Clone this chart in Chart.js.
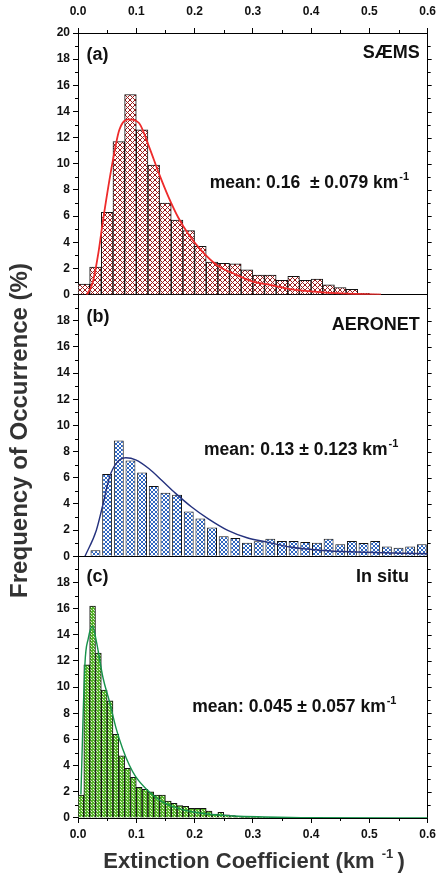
<!DOCTYPE html>
<html>
<head>
<meta charset="utf-8">
<script src="https://cdn.jsdelivr.net/npm/chart.js@4.4.1/dist/chart.umd.min.js"></script>
<style>
  html, body { margin: 0; padding: 0; background: #fff; }
  #wrap { width: 445px; height: 878px; position: relative; }
</style>
</head>
<body>
<div id="wrap"><canvas id="hist" width="445" height="878"></canvas></div>
<script>
// bin centres (km-1) and frequency (%)
const binsA = [0.01, 0.03, 0.05, 0.07, 0.09, 0.11, 0.13, 0.15, 0.17, 0.19, 0.21, 0.23, 0.25,
               0.27, 0.29, 0.31, 0.33, 0.35, 0.37, 0.39, 0.41, 0.43, 0.45, 0.47, 0.49, 0.51];
const freqA = [0.8, 2.1, 6.3, 11.7, 15.3, 12.6, 9.9, 7.0, 5.7, 4.9, 3.7, 2.5, 2.4,
               2.35, 1.9, 1.5, 1.5, 1.1, 1.4, 1.1, 1.2, 0.75, 0.55, 0.4, 0.1, 0.05];

const binsB = [0.03, 0.05, 0.07, 0.09, 0.11, 0.13, 0.15, 0.17, 0.19, 0.21, 0.23, 0.25, 0.27, 0.29, 0.31,
               0.33, 0.35, 0.37, 0.39, 0.41, 0.43, 0.45, 0.47, 0.49, 0.51, 0.53, 0.55, 0.57, 0.59];
const freqB = [0.46, 6.3, 8.85, 7.33, 6.4, 5.37, 4.86, 4.7, 3.43, 2.9, 2.2, 1.53, 1.4, 1.04, 1.15,
               1.35, 1.17, 1.17, 1.1, 1.04, 1.35, 0.92, 1.17, 1.02, 1.17, 0.76, 0.66, 0.76, 0.92];

const binsC = [0.005, 0.015, 0.025, 0.035, 0.045, 0.055, 0.065, 0.075, 0.085, 0.095, 0.105, 0.115,
               0.125, 0.135, 0.145, 0.155, 0.165, 0.175, 0.185, 0.195, 0.205, 0.215, 0.225, 0.235,
               0.245, 0.255, 0.265, 0.275, 0.285, 0.295, 0.305, 0.315, 0.325, 0.335, 0.345];
const freqC = [1.76, 11.7, 16.2, 12.6, 9.77, 8.96, 6.39, 4.76, 3.79, 3.1, 2.34, 2.2,
               2.0, 1.76, 1.76, 1.3, 1.12, 0.94, 0.89, 0.74, 0.74, 0.74, 0.53, 0.3,
               0.43, 0.25, 0.18, 0.13, 0.1, 0.1, 0.08, 0.06, 0.05, 0.04, 0.03];

// fitted distribution curves
const fitAx = [0.015, 0.025, 0.035, 0.043, 0.06, 0.071, 0.088, 0.105, 0.122, 0.139, 0.155, 0.172,
               0.189, 0.211, 0.24, 0.268, 0.3, 0.33, 0.364, 0.42, 0.477, 0.52];
const fitAy = [0, 0.9, 3.2, 5.7, 10.3, 12.6, 13.4, 13.1, 11.3, 9.25, 7.5, 5.9,
               4.65, 3.4, 2.2, 1.6, 1.0, 0.75, 0.43, 0.18, 0.05, 0];

const fitBx = [0.012, 0.0315, 0.043, 0.054, 0.065, 0.082, 0.099, 0.122, 0.144, 0.167, 0.195, 0.223,
               0.257, 0.29, 0.3245, 0.364, 0.42, 0.477, 0.54, 0.6];
const fitBy = [0, 2.0, 4.0, 6.05, 7.07, 7.53, 7.38, 6.7, 5.8, 4.83, 3.77, 2.88,
               1.98, 1.42, 1.09, 0.71, 0.45, 0.33, 0.25, 0.2];

const fitCx = [0.005, 0.0118, 0.0175, 0.0248, 0.0315, 0.043, 0.054, 0.0654, 0.0766, 0.088, 0.099,
               0.122, 0.144, 0.172, 0.212, 0.268, 0.32, 0.4, 0.6];
const fitCy = [1.8, 11.7, 13.7, 14.66, 13.5, 10.7, 8.9, 6.85, 5.3, 4.05, 3.16,
               2.0, 1.25, 0.74, 0.36, 0.15, 0.08, 0.02, 0];

const xTicks = [0, 0.1, 0.2, 0.3, 0.4, 0.5, 0.6];
const panelTags = ['(a)', '(b)', '(c)'];
const sources = ['SÆMS', 'AERONET', 'In situ'];
const meanText = ['mean: 0.16  ± 0.079 km', 'mean: 0.13 ± 0.123 km', 'mean: 0.045 ± 0.057 km'];

const FONT = '"Liberation Sans", Arial, sans-serif';
Chart.defaults.font.family = FONT;

const pts = (xs, ys) => xs.map((x, i) => ({ x: x, y: ys[i] }));

function hatch(bg, fg, size) {
    const c = document.createElement('canvas');
    c.width = c.height = size;
    const g = c.getContext('2d');
    g.fillStyle = bg;
    g.fillRect(0, 0, size, size);
    g.strokeStyle = fg;
    g.lineWidth = 1;
    g.beginPath();
    g.moveTo(0, 0); g.lineTo(size, size);
    g.moveTo(size, 0); g.lineTo(0, size);
    g.stroke();
    return g.createPattern(c, 'repeat');
}

function dots(bg, fg) {
    const c = document.createElement('canvas');
    c.width = c.height = 3;
    const g = c.getContext('2d');
    g.fillStyle = bg;
    g.fillRect(0, 0, 3, 3);
    g.fillStyle = fg;
    g.fillRect(1, 1, 1, 1);
    g.fillRect(0, 0, 1, 1);
    return g.createPattern(c, 'repeat');
}

const tickFont = { size: 12, weight: 'bold' };

const xAxis = (pos) => ({
    type: 'linear', position: pos, min: 0, max: 0.6, offset: false,
    afterBuildTicks: s => { s.ticks = xTicks.map(v => ({ value: v })); },
    ticks: { font: tickFont, color: '#111', padding: pos === 'top' ? 9 : 4, maxRotation: 0, autoSkip: false,
             callback: v => v.toFixed(1) },
    grid: {
        offset: false, drawOnChartArea: pos === 'bottom', tickLength: 5, tickColor: '#000',
        color: c => (c.tick && Math.abs(c.tick.value - 0.6) < 1e-6) ? '#000' : 'rgba(0,0,0,0)'
    },
    border: { color: '#000', width: 1 },
    afterFit: s => { s.height = pos === 'top' ? 33 : 60; }
});

const hiddenX = () => ({ type: 'linear', min: 0, max: 0.6, offset: false, display: false,
                         ticks: { stepSize: 0.1 }, grid: { offset: false } });

const yAxis = (showTop) => ({
    type: 'linear', position: 'left', stack: 'panels', stackWeight: 1, min: 0, max: 20,
    ticks: { stepSize: 2, font: tickFont, color: '#111', padding: 3, autoSkip: false,
             callback: v => (v === 20 && !showTop) ? '' : v },
    grid: {
        tickLength: 5, tickColor: '#000',
        color: c => (!showTop && c.tick && c.tick.value === 20) ? '#000' : 'rgba(0,0,0,0)'
    },
    border: { color: '#000', width: 1 },
    afterFit: s => { s.width = 78; }
});

// small ticks between the labelled ones, and ticks on the right frame
const minorTicks = {
    id: 'minorTicks',
    afterDraw(chart) {
        const { ctx, chartArea: a, scales } = chart;
        ctx.save();
        ctx.strokeStyle = '#000';
        ctx.lineWidth = 1;
        ctx.beginPath();
        ['ya', 'yb', 'yc'].forEach(id => {
            const s = scales[id];
            for (let v = 1; v < 20; v++) {
                const y = Math.round(s.getPixelForValue(v)) + 0.5;
                if (v % 2) { ctx.moveTo(a.left - 3, y); ctx.lineTo(a.left, y); }
                ctx.moveTo(a.right, y); ctx.lineTo(a.right + (v % 2 ? 3 : 4), y);
            }
        });
        const sx = scales.x;
        for (let k = 0; k < 6; k++) {
            const x = Math.round(sx.getPixelForValue(0.05 + k * 0.1)) + 0.5;
            ctx.moveTo(x, a.bottom); ctx.lineTo(x, a.bottom + 3);
            ctx.moveTo(x, a.top - 3); ctx.lineTo(x, a.top);
        }
        ctx.stroke();
        ctx.restore();
    }
};

function supText(ctx, text, sup, x, y, size, align) {
    ctx.font = 'bold ' + size + 'px ' + FONT;
    const w1 = ctx.measureText(text).width;
    ctx.font = 'bold ' + Math.round(size * 0.6) + 'px ' + FONT;
    const w2 = ctx.measureText(sup).width;
    let x0 = x;
    if (align === 'center') x0 = x - (w1 + w2) / 2;
    ctx.font = 'bold ' + size + 'px ' + FONT;
    ctx.fillText(text, x0, y);
    ctx.font = 'bold ' + Math.round(size * 0.6) + 'px ' + FONT;
    ctx.fillText(sup, x0 + w1 + 1, y - size * 0.35);
    return x0 + w1 + w2 + 1;
}

const annotations = {
    id: 'annotations',
    afterDraw(chart) {
        const { ctx, chartArea: a, scales } = chart;
        const sx = scales.x;
        const ys = [scales.ya, scales.yb, scales.yc];
        const tagPos = [[0.0147, 18.3], [0.0147, 18.3], [0.0147, 18.4]];
        const srcPos = [[0.5865, 18.45], [0.5865, 17.7], [0.568, 18.45]];
        const meanPos = [[0.226, 8.5], [0.216, 8.15], [0.196, 8.45]];
        ctx.save();
        ctx.fillStyle = '#111';
        ctx.textBaseline = 'middle';
        for (let i = 0; i < 3; i++) {
            ctx.textAlign = 'left';
            ctx.font = 'bold 18px ' + FONT;
            ctx.fillText(panelTags[i], sx.getPixelForValue(tagPos[i][0]), ys[i].getPixelForValue(tagPos[i][1]));
            ctx.textAlign = 'right';
            ctx.fillText(sources[i], sx.getPixelForValue(srcPos[i][0]), ys[i].getPixelForValue(srcPos[i][1]));
            ctx.textAlign = 'left';
            supText(ctx, meanText[i], '-1', sx.getPixelForValue(meanPos[i][0]), ys[i].getPixelForValue(meanPos[i][1]), 17.5, 'left');
        }
        // axis titles
        ctx.fillStyle = '#333';
        ctx.textAlign = 'left';
        const cx = (a.left + a.right) / 2 + 3;
        const end = supText(ctx, 'Extinction Coefficient (km ', '-1', cx - 8, 862, 22, 'center');
        ctx.font = 'bold 22px ' + FONT;
        ctx.fillText(' )', end - 2, 862);
        ctx.translate(20, (a.top + a.bottom) / 2 + 5);
        ctx.rotate(-Math.PI / 2);
        ctx.textAlign = 'center';
        ctx.font = 'bold 24px ' + FONT;
        ctx.fillText('Frequency of Occurrence (%)', 0, 0);
        ctx.restore();
    }
};

const barStyle = { borderColor: '#111', borderWidth: 1, categoryPercentage: 1, grouped: false, order: 2 };
const lineStyle = { type: 'line', pointRadius: 0, cubicInterpolationMode: 'monotone', fill: false, xAxisID: 'x', order: 1 };

new Chart(document.getElementById('hist'), {
    type: 'bar',
    data: {
        datasets: [
            { ...barStyle, data: pts(binsA, freqA), xAxisID: 'xa', yAxisID: 'ya', barPercentage: 1,
              backgroundColor: hatch('#ffffff', '#9b1c1c', 5) },
            { ...barStyle, data: pts(binsB, freqB), xAxisID: 'xb', yAxisID: 'yb', barPercentage: 0.85,
              backgroundColor: hatch('#ffffff', '#2f66c0', 4) },
            { ...barStyle, data: pts(binsC, freqC), xAxisID: 'xc', yAxisID: 'yc', barPercentage: 1,
              backgroundColor: dots('#55b52a', '#e8f5dc') },
            { ...lineStyle, data: pts(fitAx, fitAy), yAxisID: 'ya', borderColor: '#ee2b2b', borderWidth: 1.8 },
            { ...lineStyle, data: pts(fitBx, fitBy), yAxisID: 'yb', borderColor: '#25327e', borderWidth: 1.4 },
            { ...lineStyle, data: pts(fitCx, fitCy), yAxisID: 'yc', borderColor: '#16924a', borderWidth: 1.4 }
        ]
    },
    options: {
        responsive: false,
        animation: false,
        layout: { padding: { left: 0, right: 12, top: 0, bottom: 0 } },
        plugins: { legend: { display: false }, tooltip: { enabled: false } },
        scales: {
            x: xAxis('bottom'),
            x2: xAxis('top'),
            xa: hiddenX(),
            xb: hiddenX(),
            xc: hiddenX(),
            yc: yAxis(false),
            yb: yAxis(false),
            ya: yAxis(true)
        }
    },
    plugins: [minorTicks, annotations]
});
</script>
</body>
</html>
